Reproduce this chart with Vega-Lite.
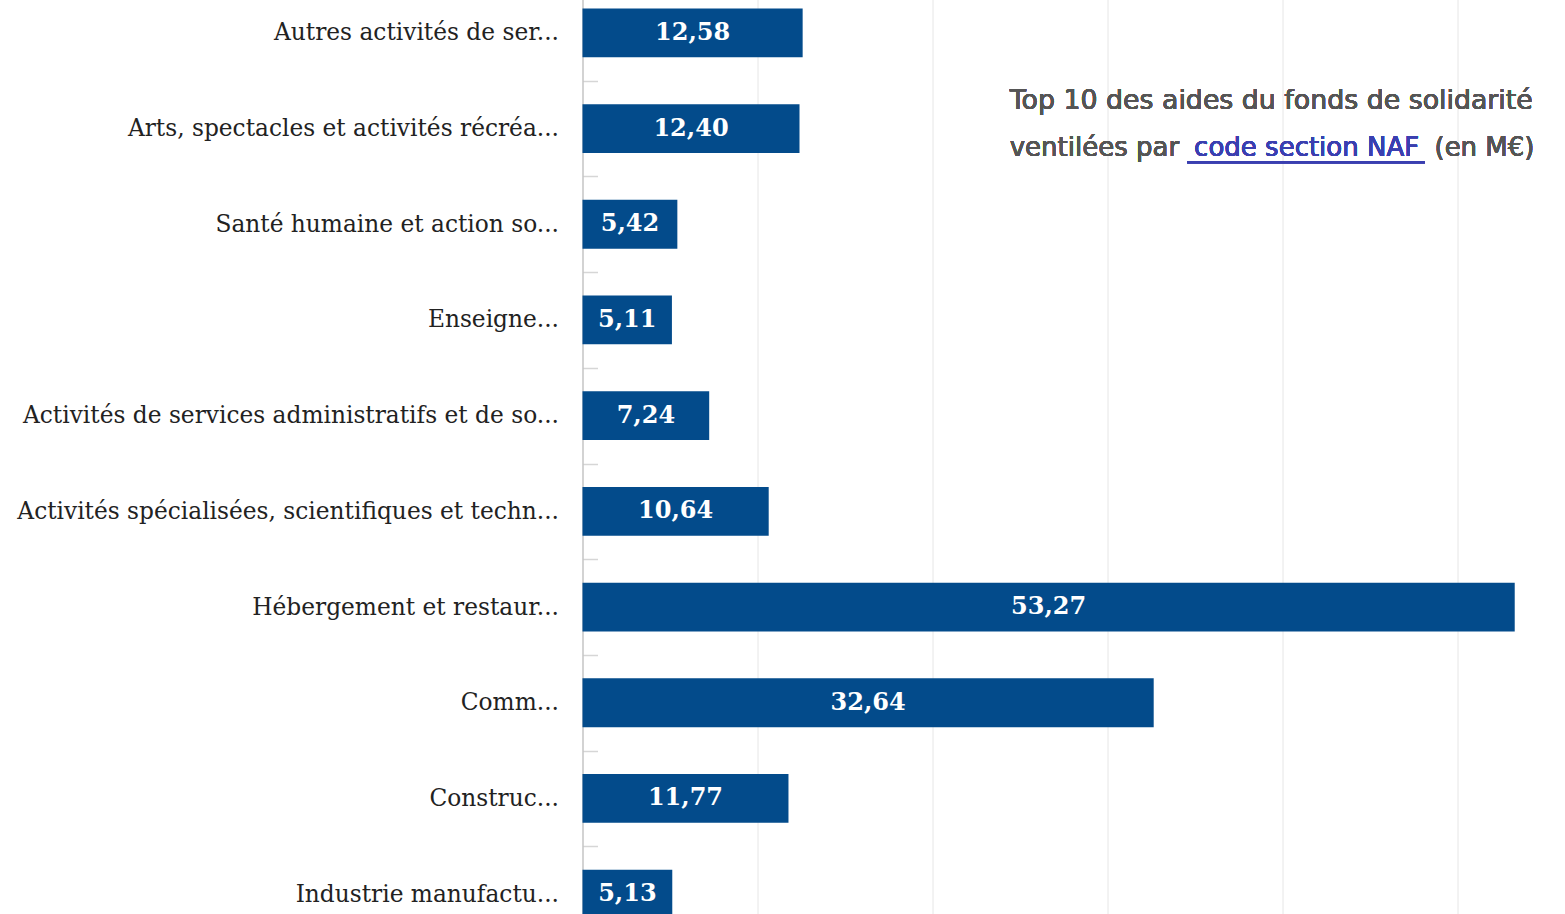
{
  "$schema": "https://vega.github.io/schema/vega-lite/v6.json",
  "autosize": {"type": "none"},
  "padding": {"left": 582.5, "top": -15, "right": 0, "bottom": 0},
  "width": 1050,
  "height": 957,
  "background": "white",
  "config": {
    "view": {"stroke": null},
    "locale": {"number": {"decimal": ",", "thousands": " ", "grouping": [3], "currency": ["", " €"]}}
  },
  "data": {"values": [
    {"cat": "Autres activités de ser...", "value": 12.58},
    {"cat": "Arts, spectacles et activités récréa...", "value": 12.40},
    {"cat": "Santé humaine et action so...", "value": 5.42},
    {"cat": "Enseigne...", "value": 5.11},
    {"cat": "Activités de services administratifs et de so...", "value": 7.24},
    {"cat": "Activités spécialisées, scientifiques et techn...", "value": 10.64},
    {"cat": "Hébergement et restaur...", "value": 53.27},
    {"cat": "Comm...", "value": 32.64},
    {"cat": "Construc...", "value": 11.77},
    {"cat": "Industrie manufactu...", "value": 5.13}
  ]},
  "resolve": {"scale": {"x": "independent"}},
  "layer": [
    {
      "mark": {"type": "bar", "color": "#034b8b"},
      "encoding": {
        "y": {"field": "cat", "type": "nominal", "sort": null,
          "scale": {"paddingInner": 0.49, "paddingOuter": 0.245},
          "axis": {"title": null, "labelFont": "DejaVu Serif", "labelFontSize": 23.3, "labelColor": "#222222",
            "labelPadding": 39, "labelLimit": 700, "tickSize": -15, "tickOffset": 47.85, "labelOffset": -47.85,
            "tickColor": "#d6d6d6", "tickWidth": 1.5, "domainColor": "#c4c4c4", "domainWidth": 1.5, "grid": false}},
        "x": {"field": "value", "type": "quantitative",
          "scale": {"domain": [0, 60], "nice": false},
          "axis": {"title": null, "labels": false, "ticks": false, "domain": false, "grid": true,
            "gridColor": "#e6e6e6", "values": [10, 20, 30, 40, 50, 60]}}
      }
    },
    {
      "mark": {"type": "text", "color": "white", "font": "DejaVu Serif", "fontSize": 24, "fontWeight": "bold", "baseline": "middle", "align": "center"},
      "encoding": {
        "y": {"field": "cat", "type": "nominal", "sort": null},
        "x": {"field": "value", "type": "quantitative", "scale": {"domain": [0, 120], "nice": false}, "axis": null},
        "text": {"field": "value", "type": "quantitative", "format": ".2f"}
      }
    },
    {
      "mark": {"type": "text", "color": "#555555", "font": "DejaVu Sans", "fontSize": 26.8, "align": "left", "baseline": "middle", "dy": -28},
      "encoding": {
        "y": {"datum": "Arts, spectacles et activités récréa...", "type": "nominal"},
        "x": {"datum": 24.41, "type": "quantitative", "scale": {"domain": [0, 60], "nice": false}, "axis": null},
        "text": {"value": "Top 10 des aides du fonds de solidarité"}
      }
    },
    {
      "mark": {"type": "text", "color": "#555555", "font": "DejaVu Sans", "fontSize": 26, "align": "left", "baseline": "middle", "dy": 19},
      "encoding": {
        "y": {"datum": "Arts, spectacles et activités récréa...", "type": "nominal"},
        "x": {"datum": 24.41, "type": "quantitative", "scale": {"domain": [0, 60], "nice": false}, "axis": null},
        "text": {"value": "ventilées par"}
      }
    },
    {
      "mark": {"type": "text", "color": "#3a3fb0", "font": "DejaVu Sans", "fontSize": 26, "align": "center", "baseline": "middle", "dy": 19},
      "encoding": {
        "y": {"datum": "Arts, spectacles et activités récréa...", "type": "nominal"},
        "x": {"datum": 41.38, "type": "quantitative", "scale": {"domain": [0, 60], "nice": false}, "axis": null},
        "text": {"value": "code section NAF"}
      }
    },
    {
      "mark": {"type": "text", "color": "#555555", "font": "DejaVu Sans", "fontSize": 26, "align": "right", "baseline": "middle", "dy": 19},
      "encoding": {
        "y": {"datum": "Arts, spectacles et activités récréa...", "type": "nominal"},
        "x": {"datum": 54.4, "type": "quantitative", "scale": {"domain": [0, 60], "nice": false}, "axis": null},
        "text": {"value": "(en M€)"}
      }
    },
    {
      "mark": {"type": "rule", "color": "#3a3fb0", "strokeWidth": 2},
      "encoding": {
        "y": {"datum": "Arts, spectacles et activités récréa...", "type": "nominal"},
        "yOffset": {"value": 58},
        "x": {"datum": 34.55, "type": "quantitative", "scale": {"domain": [0, 60], "nice": false}, "axis": null},
        "x2": {"datum": 48.14}
      }
    }
  ]
}
